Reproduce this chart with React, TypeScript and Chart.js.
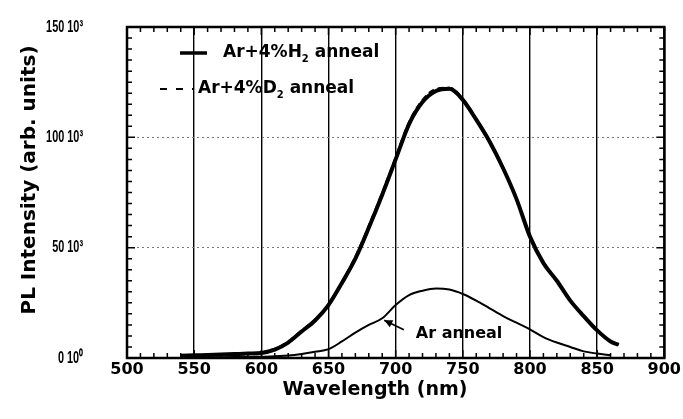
import { useEffect, useRef } from "react";
import { Chart, registerables } from "chart.js";

Chart.register(...registerables);

// ---- data (intensity in units of 10^3, arb. units) ----
const h2Wavelengths = [540, 550, 560, 570, 580, 590, 600, 610, 620, 630, 640, 650, 660, 670, 680, 690, 700, 710, 720, 730, 740, 750, 760, 770, 780, 790, 800, 810, 820, 830, 840, 850, 860, 866];
const h2Intensity = [1.0, 1.2, 1.4, 1.6, 1.8, 2.0, 2.3, 3.8, 7, 12, 17, 24, 34, 45, 59, 74, 90, 106, 116, 121, 122, 117, 108, 98, 86, 72, 55, 43, 35, 26, 19, 12.5, 7.5, 6];
const d2Intensity = [0.8, 1.0, 1.2, 1.4, 1.6, 1.9, 2.5, 4.2, 7.5, 12.5, 17.5, 24.5, 34.5, 46, 60, 75, 91, 107, 117, 122, 122.5, 117.5, 108.5, 98.5, 86, 72, 55.5, 43.5, 35, 26, 19, 12.5, 7.5, 6];
const arWavelengths = [560, 570, 580, 590, 600, 610, 620, 630, 640, 650, 660, 670, 680, 690, 700, 710, 720, 730, 740, 750, 760, 770, 780, 790, 800, 810, 820, 830, 840, 850, 860];
const arIntensity = [0.3, 0.35, 0.4, 0.45, 0.5, 0.8, 1.1, 1.8, 2.8, 4, 7.5, 11.5, 15, 18, 24, 28.5, 30.5, 31.5, 31, 29, 26, 22.5, 19, 16, 13, 9.5, 7, 5, 3, 2, 1.2];

const seriesNames = ["Ar+4%H₂ anneal", "Ar+4%D₂ anneal", "Ar anneal"];
const xMin = 500, xMax = 900, xMajor = 50, xMinor = 10;
const yMin = 0, yMax = 150, yMajor = 50, yMinor = 5;
const yTickValues = [0, 50, 100, 150];
const yTickLabels = ["0 10⁰", "50 10³", "100 10³", "150 10³"];
const xTitle = "Wavelength (nm)";
const yTitle = "PL Intensity (arb. units)";
const arrowTarget = { x: 690, y: 18 };
const arLabelAt = { x: 715, y: 11 };

const BOLD = '"DejaVu Sans", "Liberation Sans", sans-serif';
const ARIAL = '"Liberation Sans", Arial, sans-serif';

function drawSubLabel(ctx: CanvasRenderingContext2D, text: string, x: number, y: number, size: number) {
  const parts = text.split("₂");
  ctx.textAlign = "left";
  ctx.textBaseline = "middle";
  let cx = x;
  parts.forEach((p, i) => {
    ctx.font = `bold ${size}px ${BOLD}`;
    ctx.fillText(p, cx, y);
    cx += ctx.measureText(p).width;
    if (i < parts.length - 1) {
      ctx.font = `bold ${Math.round(size * 0.6)}px ${BOLD}`;
      ctx.fillText("2", cx, y + size * 0.38);
      cx += ctx.measureText("2").width;
    }
  });
}

export default function App() {
  const ref = useRef<HTMLCanvasElement>(null);

  useEffect(() => {
    const canvas = ref.current;
    if (!canvas) return;

    const decor = {
      id: "decor",
      afterDatasetsDraw(chart: any) {
        const ctx: CanvasRenderingContext2D = chart.ctx;
        const { left, right, top, bottom } = chart.chartArea;
        const xs = chart.scales.x;
        const ys = chart.scales.y;
        ctx.save();
        ctx.strokeStyle = "#000";
        ctx.fillStyle = "#000";
        // minor ticks inside on all four sides
        ctx.lineWidth = 1.5;
        for (let v = xMin; v <= xMax; v += xMinor) {
          const px = xs.getPixelForValue(v);
          const len = v % xMajor === 0 ? 8 : 5;
          ctx.beginPath();
          ctx.moveTo(px, bottom); ctx.lineTo(px, bottom - len);
          ctx.moveTo(px, top); ctx.lineTo(px, top + len);
          ctx.stroke();
        }
        for (let v = yMin; v <= yMax; v += yMinor) {
          const py = ys.getPixelForValue(v);
          const len = v % yMajor === 0 ? 8 : 5;
          ctx.beginPath();
          ctx.moveTo(left, py); ctx.lineTo(left + len, py);
          ctx.moveTo(right, py); ctx.lineTo(right - len, py);
          ctx.stroke();
        }
        // frame
        ctx.lineWidth = 2.5;
        ctx.strokeRect(left, top, right - left, bottom - top);

        // y tick labels (condensed)
        yTickValues.forEach((v, i) => {
          const py = ys.getPixelForValue(v);
          ctx.save();
          ctx.translate(83, py);
          ctx.scale(0.64, 1);
          ctx.font = `bold 17px ${ARIAL}`;
          ctx.textAlign = "right";
          ctx.textBaseline = "middle";
          ctx.fillText(yTickLabels[i], 0, 0);
          ctx.restore();
        });

        // legend
        ctx.lineWidth = 3.5;
        ctx.setLineDash([]);
        ctx.beginPath();
        ctx.moveTo(left + 53, top + 26); ctx.lineTo(left + 80, top + 26);
        ctx.stroke();
        drawSubLabel(ctx, seriesNames[0], left + 96, top + 26, 17);
        ctx.lineWidth = 2;
        ctx.setLineDash([7, 9]);
        ctx.beginPath();
        ctx.moveTo(left + 33, top + 62); ctx.lineTo(left + 66, top + 62);
        ctx.stroke();
        ctx.setLineDash([]);
        drawSubLabel(ctx, seriesNames[1], left + 71, top + 62, 17);

        // "Ar anneal" annotation with arrow
        const tx = xs.getPixelForValue(arLabelAt.x);
        const ty = ys.getPixelForValue(arLabelAt.y);
        ctx.font = `bold 16px ${BOLD}`;
        ctx.textAlign = "left";
        ctx.textBaseline = "middle";
        ctx.fillText(seriesNames[2], tx, ty);
        const ax = xs.getPixelForValue(arrowTarget.x) + 2;
        const ay = ys.getPixelForValue(arrowTarget.y) + 2;
        const sx = tx - 12, sy = ty - 4;
        ctx.lineWidth = 1.8;
        ctx.beginPath();
        ctx.moveTo(sx, sy); ctx.lineTo(ax, ay);
        ctx.stroke();
        const ang = Math.atan2(ay - sy, ax - sx);
        ctx.beginPath();
        ctx.moveTo(ax, ay);
        ctx.lineTo(ax - 9 * Math.cos(ang - 0.45), ay - 9 * Math.sin(ang - 0.45));
        ctx.lineTo(ax - 9 * Math.cos(ang + 0.45), ay - 9 * Math.sin(ang + 0.45));
        ctx.closePath();
        ctx.fill();

        // axis titles
        ctx.font = `bold 19px ${BOLD}`;
        ctx.textAlign = "center";
        ctx.textBaseline = "middle";
        ctx.fillText(xTitle, 375, 390);
        ctx.save();
        ctx.translate(30, 180);
        ctx.rotate(-Math.PI / 2);
        ctx.font = `bold 20px ${BOLD}`;
        ctx.fillText(yTitle, 0, 0);
        ctx.restore();
        ctx.restore();
      },
    };

    const chart = new Chart(canvas, {
      type: "line",
      data: {
        datasets: [
          {
            label: seriesNames[0],
            data: h2Wavelengths.map((x, i) => ({ x, y: h2Intensity[i] })),
            borderColor: "#000",
            borderWidth: 4,
            pointRadius: 0,
            cubicInterpolationMode: "monotone",
          },
          {
            label: seriesNames[1],
            data: h2Wavelengths.map((x, i) => ({ x, y: d2Intensity[i] })),
            borderColor: "#000",
            borderWidth: 2,
            borderDash: [6, 4],
            pointRadius: 0,
            cubicInterpolationMode: "monotone",
          },
          {
            label: seriesNames[2],
            data: arWavelengths.map((x, i) => ({ x, y: arIntensity[i] })),
            borderColor: "#000",
            borderWidth: 2,
            pointRadius: 0,
            cubicInterpolationMode: "monotone",
          },
        ],
      },
      options: {
        animation: false,
        responsive: false,
        maintainAspectRatio: false,
        layout: { padding: { top: 27, right: 17, bottom: 0, left: 0 } },
        plugins: { legend: { display: false }, tooltip: { enabled: false } },
        scales: {
          x: {
            type: "linear",
            min: xMin,
            max: xMax,
            ticks: {
              stepSize: xMajor,
              color: "#000",
              font: { family: BOLD, size: 16, weight: "bold" },
              padding: 2,
              maxRotation: 0,
            },
            grid: { color: "#000", lineWidth: 1.4, drawTicks: false },
            border: { display: false },
            afterFit: (s: any) => { s.height = 61; },
          },
          y: {
            type: "linear",
            min: yMin,
            max: yMax,
            ticks: { stepSize: yMajor, display: false },
            grid: { color: "#777", lineWidth: 1, drawTicks: false },
            border: { display: false, dash: [2, 3] },
            afterFit: (s: any) => { s.width = 127; s.paddingTop = 0; s.paddingBottom = 0; },
          },
        },
      },
      plugins: [decor],
    } as any);

    return () => chart.destroy();
  }, []);

  return (
    <div style={{ position: "absolute", left: 0, top: 0, width: 683, height: 419, background: "#fff" }}>
      <canvas ref={ref} width={683} height={419} style={{ width: 683, height: 419, display: "block" }} />
    </div>
  );
}
